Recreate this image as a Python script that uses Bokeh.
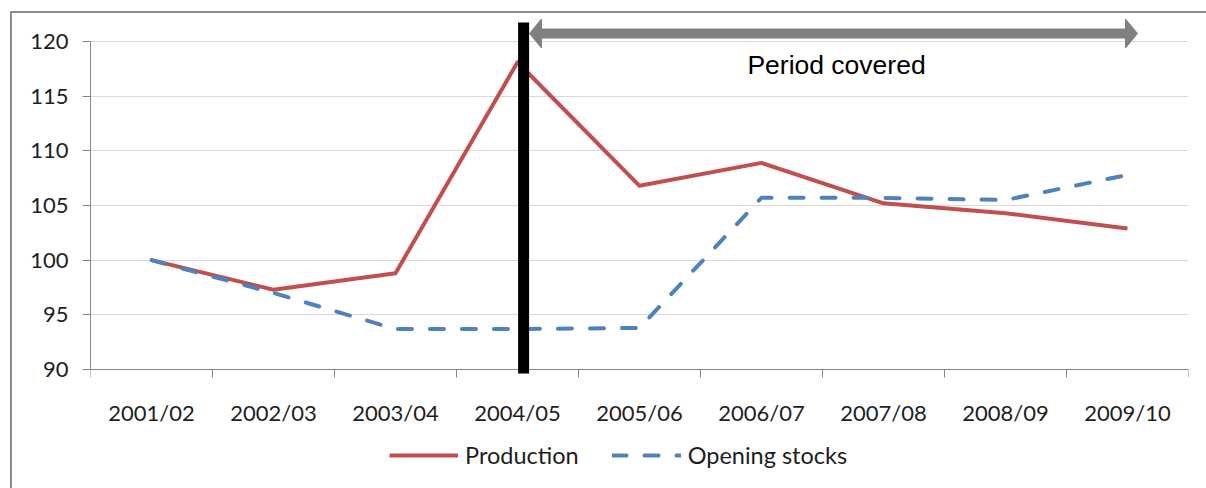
from bokeh.plotting import figure
from bokeh.models import (Range1d, FixedTicker, Legend, LegendItem, Label,
                          ColumnDataSource)
from bokeh.core.properties import value
from bokeh.embed import file_html
from bokeh.resources import INLINE

# ---------------- data ----------------
categories = ["2001/02", "2002/03", "2003/04", "2004/05", "2005/06",
              "2006/07", "2007/08", "2008/09", "2009/10"]
production = [100.0, 97.3, 98.8, 118.1, 106.8, 108.9, 105.2, 104.3, 102.9]
opening_stocks = [100.0, 97.0, 93.7, 93.7, 93.8, 105.7, 105.7, 105.5, 107.8]
y_ticks = [90, 95, 100, 105, 110, 115, 120]
series_names = ["Production", "Opening stocks"]
period_label = "Period covered"

# ---------------- styling constants ----------------
RED = "#C0504D"
BLUE = "#4F81BD"
AXIS_GRAY = "#868686"
GRID_GRAY = "#d9d9d9"
BORDER_GRAY = "#8c8c8c"
TEXT = "#1e1e1e"
FONT = "Lato"
FS = "22px"

n = len(categories)
xs = [i + 0.5 for i in range(n)]          # category centres
bounds = list(range(n + 1))               # category boundaries (tick marks)

PX_PER_UNIT = 10.933                      # vertical pixels per value unit
Y_AXIS_MIN, Y_AXIS_MAX = y_ticks[0], y_ticks[-1]
Y_START = Y_AXIS_MIN - 119 / PX_PER_UNIT  # frame extends below the axis (labels + legend)
Y_END = Y_AXIS_MAX + 25 / PX_PER_UNIT

p = figure(width=1206, height=488, x_range=Range1d(0, n), y_range=Range1d(Y_START, Y_END),
           output_backend="svg", toolbar_location=None, x_axis_location=None,
           min_border_left=90, min_border_right=18, min_border_top=16, min_border_bottom=0)
p.outline_line_color = None
p.background_fill_color = None
p.border_fill_color = None
# outer chart-area border (left and top edges visible)
p.styles = {
    "background-color": "white",
    "background-image": f"linear-gradient({BORDER_GRAY}, {BORDER_GRAY}), "
                        f"linear-gradient({BORDER_GRAY}, {BORDER_GRAY})",
    "background-position": "10px 11px, 10px 11px",
    "background-size": "2px 100%, 100% 2px",
    "background-repeat": "no-repeat",
}

# grid
p.xgrid.visible = False
p.ygrid.ticker = FixedTicker(ticks=y_ticks)
p.ygrid.grid_line_color = GRID_GRAY
p.ygrid.grid_line_width = 1

# y axis
p.yaxis.ticker = FixedTicker(ticks=y_ticks)
p.yaxis.bounds = (Y_AXIS_MIN, Y_AXIS_MAX)
p.yaxis.axis_line_color = AXIS_GRAY
p.yaxis.major_tick_line_color = AXIS_GRAY
p.yaxis.major_tick_out = 8
p.yaxis.major_tick_in = 0
p.yaxis.minor_tick_line_color = None
p.yaxis.major_label_standoff = 14
p.yaxis.major_label_text_font = FONT
p.yaxis.major_label_text_font_size = FS
p.yaxis.major_label_text_color = TEXT

# category (x) axis drawn at value 90: line, boundary ticks, centred labels
tick_len = 8 / PX_PER_UNIT
p.segment(x0=[0], y0=[Y_AXIS_MIN], x1=[n], y1=[Y_AXIS_MIN], line_color=AXIS_GRAY, line_width=1)
p.segment(x0=bounds, y0=[Y_AXIS_MIN] * len(bounds), x1=bounds,
          y1=[Y_AXIS_MIN - tick_len] * len(bounds), line_color=AXIS_GRAY, line_width=1)
p.text(x=xs, y=[Y_AXIS_MIN - 43 / PX_PER_UNIT] * n, text=categories,
       text_align="center", text_baseline="alphabetic",
       text_font=value(FONT), text_font_size=FS, text_color=TEXT)

src = ColumnDataSource(dict(x=xs, production=production, stocks=opening_stocks))

r_prod = p.line("x", "production", source=src, line_color=RED, line_width=4,
                line_join="round")
r_stock = p.line("x", "stocks", source=src, line_color=BLUE, line_width=4,
                 line_dash="14 18", line_cap="round", line_join="round")

# ---------------- period marker ----------------
bar_x = 3.55
p.segment(x0=[bar_x], y0=[Y_AXIS_MIN - 4 / PX_PER_UNIT], x1=[bar_x],
          y1=[Y_AXIS_MAX + 19 / PX_PER_UNIT], line_color="black", line_width=11)

arrow_y = Y_AXIS_MAX + 8 / PX_PER_UNIT
x_left, x_right = 3.598, 8.582
head_len = 12 / 122.0
head_half = 14.5 / PX_PER_UNIT
p.segment(x0=[x_left + head_len * 0.9], y0=[arrow_y], x1=[x_right - head_len * 0.9], y1=[arrow_y],
          line_color="#808080", line_width=10)
p.patches(xs=[[x_left, x_left + head_len, x_left + head_len],
              [x_right, x_right - head_len, x_right - head_len]],
          ys=[[arrow_y, arrow_y + head_half, arrow_y - head_half],
              [arrow_y, arrow_y + head_half, arrow_y - head_half]],
          fill_color="#808080", line_color="#808080", line_width=1)

p.add_layout(Label(x=6.115, y=Y_AXIS_MAX - 23.5 / PX_PER_UNIT, text=period_label,
                   text_align="center", text_baseline="alphabetic",
                   text_font="Liberation Sans", text_font_size="26.5px",
                   text_color="black"))

# ---------------- legend (inside the extended frame, below the category labels) ----------------
legend = Legend(items=[LegendItem(label=series_names[0], renderers=[r_prod]),
                       LegendItem(label=series_names[1], renderers=[r_stock])],
                orientation="horizontal", location=(299, 19),
                glyph_width=69, glyph_height=26, label_height=26,
                label_standoff=7, spacing=33, padding=0, margin=0,
                border_line_alpha=0, background_fill_alpha=0,
                label_text_font=FONT, label_text_font_size="23.5px",
                label_text_color=TEXT)
p.add_layout(legend, "center")

open("out.html", "w").write(file_html(p, INLINE))
